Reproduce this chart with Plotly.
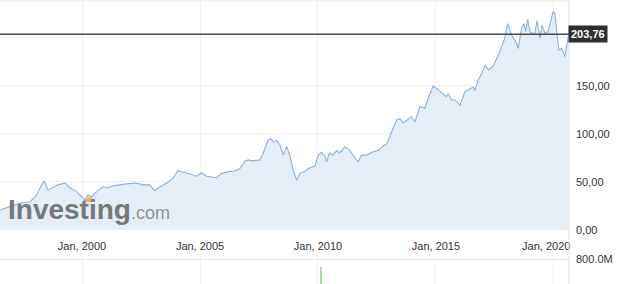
import plotly.graph_objects as go

dates = [
    "1996-07-10", "1997-05-15", "1997-10-20", "1998-01-30", "1998-04-15", "1998-05-25",
    "1998-07-25", "1998-10-10", "1998-12-25", "1999-04-10", "1999-06-28", "1999-10-10",
    "1999-12-28", "2000-02-18", "2000-04-01", "2000-05-30", "2000-08-15", "2000-11-20",
    "2001-02-05", "2001-04-22", "2001-11-20", "2002-04-25", "2002-07-30", "2002-11-15",
    "2003-02-01", "2003-04-22", "2003-08-05", "2003-11-10", "2004-01-25", "2004-05-10",
    "2004-09-12", "2004-11-10", "2005-01-25", "2005-04-12", "2005-09-15", "2005-12-01",
    "2006-03-15", "2006-06-25", "2006-09-10", "2006-11-28", "2007-01-20", "2007-03-10",
    "2007-07-15", "2007-09-05", "2007-11-20", "2008-01-01", "2008-02-10", "2008-04-01",
    "2008-05-22", "2008-07-12", "2008-09-02", "2008-10-22", "2008-12-12", "2009-02-05",
    "2009-03-28", "2009-06-12", "2009-08-02", "2009-11-15", "2010-01-05", "2010-02-28",
    "2010-04-20", "2010-05-15", "2010-06-25", "2010-08-25", "2010-10-15", "2010-12-05",
    "2011-02-20", "2011-05-10", "2011-08-20", "2011-09-15", "2011-11-05", "2012-01-22",
    "2012-05-05", "2012-07-25", "2012-10-10", "2012-12-01", "2013-02-15", "2013-05-01",
    "2013-06-22", "2013-08-12", "2013-12-20", "2014-02-10", "2014-04-28", "2014-07-12",
    "2014-09-01", "2014-11-20", "2015-02-05", "2015-04-22", "2015-06-12", "2015-07-08",
    "2015-09-01", "2015-10-22", "2016-01-08", "2016-03-25", "2016-05-15", "2016-08-01",
    "2016-08-25", "2016-10-15", "2016-12-08", "2017-01-30", "2017-03-22", "2017-06-08",
    "2017-09-15", "2017-12-01", "2018-01-15", "2018-03-18", "2018-06-03", "2018-06-28",
    "2018-08-18", "2018-09-25", "2018-10-20", "2018-11-22", "2018-12-25", "2019-02-15",
    "2019-03-10", "2019-04-15", "2019-05-30", "2019-07-01", "2019-08-15", "2019-10-05",
    "2019-12-20", "2020-01-15", "2020-02-10", "2020-03-18", "2020-04-30", "2020-06-20",
    "2020-08-10", "2020-08-20",
]
prices = [
    20.8, 28, 29.5, 36.5, 47, 51,
    41.7, 44, 47, 49, 44, 40,
    34, 31, 36.5, 34.7, 40, 45,
    44, 46, 48, 49, 47, 47,
    41, 45, 49, 54, 62, 60,
    57, 56, 59.7, 56, 54.5, 59,
    60.8, 61.5, 64, 72, 73, 72,
    73, 80, 93.7, 94.8, 92, 93,
    88.5, 78, 86.8, 78, 62.5, 52,
    59, 60.8, 64, 66.7, 78, 81,
    76.4, 71, 80, 78, 82.6, 80.5,
    86.8, 82.6, 73, 71, 78, 78,
    81.6, 83, 87.8, 89.6, 102.4, 114.6,
    116, 111.8, 118, 112.8, 128.4, 126.8,
    137, 150, 146, 142, 138.9, 142,
    135.4, 135.4, 130, 144, 146, 149,
    145, 156, 163, 172, 166.7, 171,
    185.7, 199.7, 215, 203, 194.5, 189,
    210, 215, 206.6, 219.5, 206.6, 205,
    204, 218, 199.7, 213.5, 205, 206.6,
    227.4, 225.7, 206.6, 187.5, 189, 180.5,
    201, 203.76,
]

vol_dates = ["2010-02-15"]
vol_values = [640e6]

x_tick_dates = ["2000-01-01", "2005-01-01", "2010-01-01", "2015-01-01", "2020-01-01"]
x_tick_labels = ["Jan, 2000", "Jan, 2005", "Jan, 2010", "Jan, 2015",
                 "Jan, 2020" + "\u00a0" * 5]
y_tick_vals = [0, 50, 100, 150, 200]
y_tick_labels = ["0,00", "50,00", "100,00", "150,00", ""]
vol_tick_vals = [800e6]
vol_tick_labels = ["800.0M"]
last_label = "203,76"

FONT = "Arial, Liberation Sans, sans-serif"
GRID = "#f1f1f1"
H = 284
PLOT_H = 283  # height minus top margin

fig = go.Figure()
fig.add_trace(go.Scatter(
    x=dates, y=prices, mode="lines",
    line=dict(color="#8cb2d8", width=1.1),
    fill="tozeroy", fillcolor="#e5eef7",
    xaxis="x", yaxis="y", hoverinfo="skip",
))
fig.add_trace(go.Bar(
    x=vol_dates, y=vol_values, marker=dict(color="#a6d9b0", line=dict(width=0)),
    width=31 * 86400000, xaxis="x2", yaxis="y2", hoverinfo="skip",
))

xr = ["1996-07-10", "2020-08-22"]
fig.update_layout(
    width=624, height=H,
    margin=dict(l=0, r=55, t=1, b=0, pad=0, autoexpand=False),
    paper_bgcolor="white", plot_bgcolor="white",
    showlegend=False,
    font=dict(family=FONT, size=11, color="#333"),
    xaxis=dict(
        domain=[0, 1], range=xr, type="date", anchor="y",
        tickvals=x_tick_dates, ticktext=x_tick_labels,
        showgrid=True, gridcolor=GRID, gridwidth=1,
        ticks="", ticklabelstandoff=8, zeroline=False, showline=False,
        tickfont=dict(size=11, color="#333"), automargin=False,
    ),
    yaxis=dict(
        domain=[0.1908, 1.0], range=[0, 238.5], side="right", anchor="x",
        tickvals=y_tick_vals, ticktext=y_tick_labels,
        showgrid=True, gridcolor=GRID, zeroline=False,
        ticks="", ticklabelstandoff=6, automargin=False,
        tickfont=dict(size=11, color="#333"),
    ),
    xaxis2=dict(
        domain=[0, 1], range=xr, type="date", anchor="y2",
        tickvals=x_tick_dates, showticklabels=False,
        showgrid=True, gridcolor=GRID, zeroline=False, automargin=False,
    ),
    yaxis2=dict(
        domain=[0, 0.0919], range=[320e6, 820e6], side="right", anchor="x2",
        tickvals=vol_tick_vals, ticktext=vol_tick_labels,
        showgrid=True, gridcolor="#e8e8e8", zeroline=False,
        ticks="", ticklabelstandoff=6, automargin=False,
        tickfont=dict(size=11, color="#333"),
    ),
    bargap=0,
)

# borders
fig.add_shape(type="line", xref="paper", yref="paper", x0=0, x1=1, y0=1, y1=1,
              line=dict(color="#e6e6e6", width=1))
fig.add_shape(type="line", xref="paper", yref="paper", x0=1, x1=1, y0=0, y1=1,
              line=dict(color="#e3e3e3", width=1))
# last price line
fig.add_shape(type="line", xref="x domain", yref="y", x0=0, x1=1,
              y0=prices[-1], y1=prices[-1], line=dict(color="#4a4a4a", width=1.5))

fig.add_annotation(
    xref="paper", yref="y", x=1, y=prices[-1], xanchor="left", yanchor="middle",
    xshift=-1, text="<b>" + last_label + "</b>", showarrow=False,
    font=dict(family=FONT, size=11, color="white"),
    bgcolor="#2f2f2f", borderpad=2,
)

# watermark logo
fig.add_annotation(
    xref="paper", yref="paper", x=6 / 569, y=(H - 210) / PLOT_H,
    xanchor="left", yanchor="middle", showarrow=False,
    text='<b>Investing</b><span style="font-size:18px;color:#8a8a8a">.com</span>',
    font=dict(family=FONT, size=28, color="#6e6e6e"),
    opacity=0.92,
)
# small orange accent on the logo's "t"
fig.add_shape(type="rect", xref="paper", yref="paper",
              x0=86 / 569, x1=92 / 569, y0=(H - 202) / PLOT_H, y1=(H - 197) / PLOT_H,
              line=dict(width=0), fillcolor="#f0b45a", opacity=0.9)

fig.write_html("out.html")
